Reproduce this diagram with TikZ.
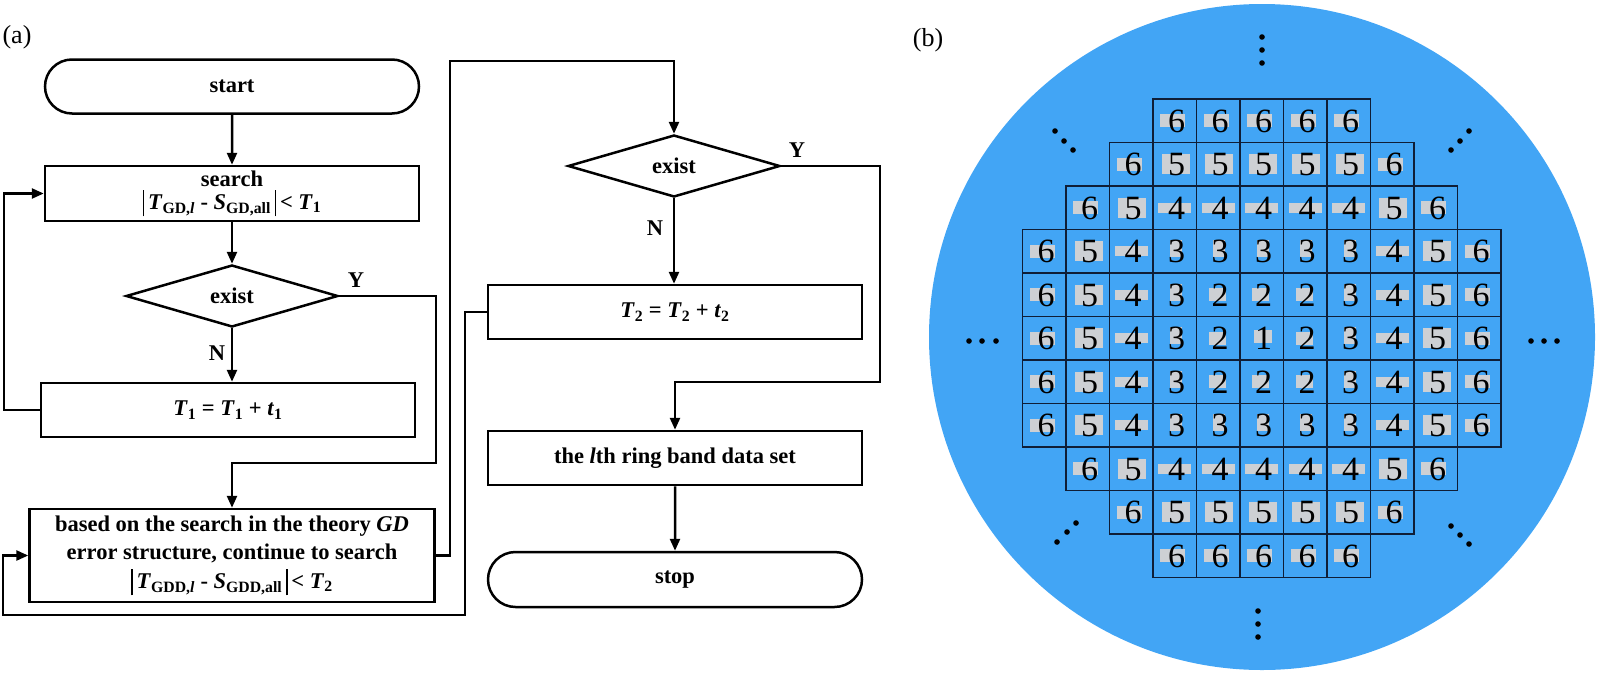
\documentclass[tikz,border=0pt]{standalone}
\usepackage{fontspec}
\setmainfont{Liberation Serif}
\usetikzlibrary{shapes.geometric,shapes.misc,arrows.meta,calc}
\definecolor{wafer}{RGB}{66,165,245}
\definecolor{hlgray}{RGB}{205,208,212}
\definecolor{gridline}{RGB}{15,30,55}
\newcommand\absbar{\rule[-7pt]{1.6pt}{26pt}}
\begin{document}
\begin{tikzpicture}[x=1pt,y=-1pt,
  fc/.style={font=\fontsize{22.5}{28}\selectfont\bfseries},
  box/.style={fc,draw,line width=2.5pt,rectangle,inner sep=0pt,minimum width=374pt,minimum height=54pt,align=center},
  term/.style={box,rounded rectangle},
  dec/.style={fc,draw,line width=2.5pt,diamond,inner sep=0pt,minimum width=212pt,minimum height=62pt},
  conn/.style={line width=2.5pt,-{Triangle[length=12pt,width=10pt]}},
  yn/.style={fc,inner sep=0pt},
  panel/.style={font=\fontsize{26}{30}\selectfont,inner sep=0pt},
  cellbox/.style={draw=gridline,line width=1.5pt,minimum size=43.5pt,inner sep=0pt,rectangle},
  hl/.style={fill=hlgray,inner sep=0pt,rectangle},
  hl1/.style={minimum width=18pt,minimum height=13pt,xshift=1pt,yshift=1.5pt},
  hl2/.style={minimum width=17pt,minimum height=13pt,xshift=-1pt},
  hl3/.style={minimum width=12pt,minimum height=17pt,xshift=1pt,yshift=2.5pt},
  hl4/.style={minimum width=33pt,minimum height=10pt},
  hl5/.style={minimum width=28pt,minimum height=20pt,xshift=1pt},
  hl6/.style={minimum width=25pt,minimum height=13pt,xshift=-2pt},
  digit/.style={font=\fontsize{34}{34}\selectfont,inner sep=0pt,anchor=base},
  dotmark/.style={fill=black}
]
\useasboundingbox (0,0) rectangle (1600,675);

% ---------- panel (a) ----------
\node[panel] (la) at (17,37) {(a)};
\node[term] (start) at (232,86.5) {start};
\node[box,minimum height=55pt] (search) at (232,193.5) {search\\[-5pt]\absbar\,\textit{T}\textsubscript{GD,\textit{l}} - \textit{S}\textsubscript{GD,all}\,\absbar\,< \textit{T}\textsubscript{1}};
\node[dec] (d1) at (232,296) {exist};
\node[box] (t1) at (228,410) {\textit{T}\textsubscript{1} = \textit{T}\textsubscript{1} + \textit{t}\textsubscript{1}};
\node[box,minimum width=405pt,minimum height=93pt] (gd) at (232,555.5) {based on the search in the theory \textit{GD}\\error structure, continue to search\\[1pt]\absbar\,\textit{T}\textsubscript{GDD,\textit{l}} - \textit{S}\textsubscript{GDD,all}\,\absbar\,< \textit{T}\textsubscript{2}};
\node[dec] (d2) at (674,166) {exist};
\node[box] (t2) at (675,312) {\textit{T}\textsubscript{2} = \textit{T}\textsubscript{2} + \textit{t}\textsubscript{2}};
\node[box] (ring) at (675,458) {the \textit{l}th ring band data set};
\node[term,minimum height=55pt] (stop) at (675,579.5) {stop};

\node[yn] (y1) at (356,280) {Y};
\node[yn] (n1) at (217,353) {N};
\node[yn] (y2) at (797,150) {Y};
\node[yn] (n2) at (655,228) {N};

\coordinate (lx) at (4,0);
\coordinate (y1a) at (436,463);
\coordinate (rx) at (450,61);
\coordinate (y2a) at (880,382);
\coordinate (bl) at (465,615);
\coordinate (lb) at (3,615);

\draw[conn] (start) -- (search);
\draw[conn] (search) -- (d1);
\draw[conn] (d1) -- (t1.north -| d1.south);
\draw[conn] (t1.west) -- (t1.west -| lx) |- (search.west);
\draw[conn] (d1.east) -| (y1a) -| (gd.north);
\draw[conn] (gd.east) -| (rx) -| (d2.north);
\draw[conn] (d2.south) -- (t2.north -| d2.south);
\draw[conn] (d2.east) -| (y2a) -| (ring.north);
\draw[conn] (t2.west) -| (bl) -- (lb) |- (gd.west);
\draw[conn] (ring) -- (stop);

% ---------- panel (b) ----------
\fill[wafer] (1262,337) circle[radius=333pt];
\node[panel] (lb2) at (928,40) {(b)};

\foreach \r/\c/\vals in {0/3/{6,6,6,6,6},1/2/{6,5,5,5,5,5,6},2/1/{6,5,4,4,4,4,4,5,6},
  3/0/{6,5,4,3,3,3,3,3,4,5,6},4/0/{6,5,4,3,2,2,2,3,4,5,6},5/0/{6,5,4,3,2,1,2,3,4,5,6},
  6/0/{6,5,4,3,2,2,2,3,4,5,6},7/0/{6,5,4,3,3,3,3,3,4,5,6},8/1/{6,5,4,4,4,4,4,5,6},
  9/2/{6,5,5,5,5,5,6},10/3/{6,6,6,6,6}}{
  \foreach \v [count=\k from \c] in \vals {
    \node[cellbox] (g\r-\k) at ({1022.25+43.5*(\k+0.5)},{98.75+43.5*(\r+0.5)}) {};
    \node[hl,hl\v] (h\r-\k) at (g\r-\k.center) {};
    \node[digit] (n\r-\k) at ($(g\r-\k.center)+(2,11.5)$) {\v};
  }
}

% ellipsis dots
\foreach \px/\py in {1262/37,1262/50,1262/63, 1258/611,1258/624,1258/637,
  969/341,982/341,996/341, 1531/341,1544/341,1557/341,
  1055/131,1064/141,1073/150, 1451/150,1460/141,1469/131,
  1057/542,1067/532,1076/523, 1451/526,1460/535,1469/544}{
  \fill[dotmark] (\px,\py) circle[radius=2.8pt];
}
\end{tikzpicture}
\end{document}
